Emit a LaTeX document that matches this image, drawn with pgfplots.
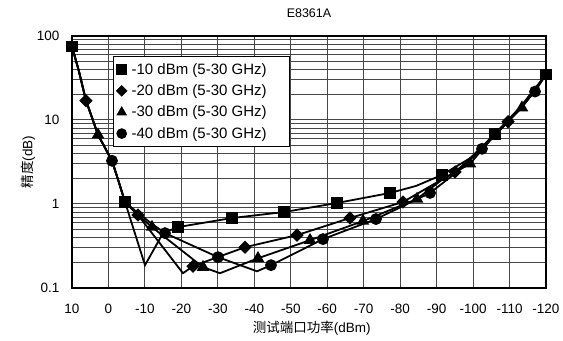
\documentclass[border=0pt]{standalone}
\usepackage{fontspec}
\setmainfont{Liberation Sans}
\newfontfamily\cjk{Noto Sans CJK SC}
\usepackage{pgfplots}
\pgfplotsset{compat=1.18}
\begin{document}
\begin{tikzpicture}
\begin{axis}[
  at={(0,0)}, anchor=south west,
  width=474bp, height=252bp, scale only axis,
  xmin=-120, xmax=10, x dir=reverse,
  ymode=log, ymin=0.1, ymax=100,
  xtick={-120,-110,...,10},
  xticklabels={-120,-110,-100,-90,-80,-70,-60,-50,-40,-30,-20,-10,0,10},
  ytick={0.1,1,10,100}, yticklabels={0.1,1,10,100},
  minor ytick={0.2,0.3,0.4,0.5,0.6,0.7,0.8,0.9,2,3,4,5,6,7,8,9,20,30,40,50,60,70,80,90},
  major tick length=0, minor tick length=0,
  grid=both,
  major grid style={black!72, line width=1bp},
  minor grid style={black!72, line width=1bp},
  axis line style={black, line width=2.2bp},
  tick label style={font=\fontsize{13.5bp}{15bp}\selectfont},
  xticklabel style={yshift=-13bp},
  yticklabel style={xshift=-9bp},
  title={E8361A},
  title style={at={(axis description cs:0.5,1.0675)}, anchor=center, font=\fontsize{12.5bp}{14bp}\selectfont},
  xlabel={{\cjk 测试端口功率}(dBm)},
  xlabel style={at={(axis description cs:0.506,-0.1587)}, anchor=center, font=\fontsize{13.5bp}{15bp}\selectfont},
  ylabel={{\cjk 精度}(dB)},
  ylabel style={at={(axis description cs:-0.0928,0.5)}, anchor=center, font=\fontsize{13.5bp}{15bp}\selectfont},
  clip=false,
  legend style={at={(axis description cs:0.0865,0.9206)}, anchor=north west, draw=black, line width=0.7bp, fill=white,
    font=\fontsize{15bp}{17bp}\selectfont, row sep=5bp, inner xsep=3bp, inner ysep=5bp},
  legend cell align=left,
  legend image code/.code={\draw[#1, line width=0.6bp] plot coordinates {(5bp,0bp)}; \path (12bp,0bp);},
  every axis plot/.append style={black, line width=1.8bp},
]
% -10 dBm line
\addplot[forget plot, mark=none] coordinates {
(10,75.1)(8.08,37.8)(6.16,17.0)(4.5,10.65)(2.87,6.67)(0.95,4.67)(-0.97,3.27)(-2.75,1.88)(-4.54,1.057)
(-10.02,0.187)(-14.96,0.450)(-19.07,0.531)(-33.88,0.681)(-48.15,0.802)(-62.68,1.028)(-77.22,1.353)
(-84.35,1.64)(-91.48,2.22)(-99.16,3.5)(-106.0,6.86)(-112.9,14.2)(-120,34.8)};
% -20 dBm line
\addplot[forget plot, mark=none] coordinates {
(10,75.1)(8.08,37.8)(6.16,17.0)(4.5,10.65)(2.87,6.67)(0.95,4.67)(-0.97,3.27)(-2.75,1.88)(-4.54,1.057)
(-8.1,0.739)(-20.44,0.150)(-23.19,0.182)(-37.45,0.306)(-51.71,0.426)(-66.25,0.681)(-80.78,1.057)
(-95.05,2.41)(-102.5,4.6)(-109.6,9.54)(-115,17.5)(-120,34.8)};
% -30 dBm line
\addplot[forget plot, mark=none] coordinates {
(10,75.1)(8.08,37.8)(6.16,17.0)(4.5,10.65)(2.87,6.67)(0.95,4.67)(-0.97,3.27)(-2.75,1.88)(-4.54,1.057)
(-8.1,0.739)(-11.94,0.531)(-25.93,0.177)(-30.59,0.150)(-41.01,0.226)(-55.28,0.371)(-69.81,0.626)
(-84.62,1.147)(-91.5,1.95)(-99.16,3.01)(-106,6.7)(-113.4,14.0)(-120,34.8)};
% -40 dBm line
\addplot[forget plot, mark=none] coordinates {
(10,75.1)(8.08,37.8)(6.16,17.0)(4.5,10.65)(2.87,6.67)(0.95,4.67)(-0.97,3.27)(-2.75,1.88)(-4.54,1.057)
(-8.1,0.78)(-11.94,0.58)(-15.5,0.450)(-30.04,0.233)(-40.74,0.158)(-44.58,0.187)(-58.84,0.382)
(-73.38,0.662)(-88.19,1.353)(-95,2.3)(-102.45,4.54)(-110,10)(-116.99,21.8)(-120,34.8)};
% markers
\addplot[only marks, mark=square*, mark size=5bp] coordinates {
(10,75.1)(-4.54,1.057)(-19.07,0.531)(-33.88,0.681)(-48.15,0.802)(-62.68,1.028)(-77.22,1.353)(-91.48,2.22)(-106.0,6.86)(-120,34.8)};
\addlegendentry{-10 dBm (5-30 GHz)\hspace*{18bp}}
\addplot[only marks, mark=square*, mark size=3.8bp, mark options={rotate=45}] coordinates {
(6.16,17.0)(-8.1,0.739)(-23.19,0.182)(-37.45,0.306)(-51.71,0.426)(-66.25,0.681)(-80.78,1.057)(-95.05,2.41)(-109.6,9.54)};
\addlegendentry{-20 dBm (5-30 GHz)\hspace*{18bp}}
\addplot[only marks, mark=triangle*, mark size=5.5bp] coordinates {
(2.87,6.67)(-11.94,0.531)(-25.93,0.177)(-41.01,0.226)(-55.28,0.371)(-69.81,0.626)(-84.62,1.147)(-99.16,3.01)(-113.4,14.0)};
\addlegendentry{-30 dBm (5-30 GHz)\hspace*{18bp}}
\addplot[only marks, mark=*, mark size=5bp] coordinates {
(-0.97,3.27)(-15.5,0.450)(-30.04,0.233)(-44.58,0.187)(-58.84,0.382)(-73.38,0.662)(-88.19,1.353)(-102.45,4.54)(-116.99,21.8)};
\addlegendentry{-40 dBm (5-30 GHz)\hspace*{18bp}}
\end{axis}
\pgfresetboundingbox
\useasboundingbox (-72bp,-53bp) rectangle (491bp,288bp);
\end{tikzpicture}
\end{document}
